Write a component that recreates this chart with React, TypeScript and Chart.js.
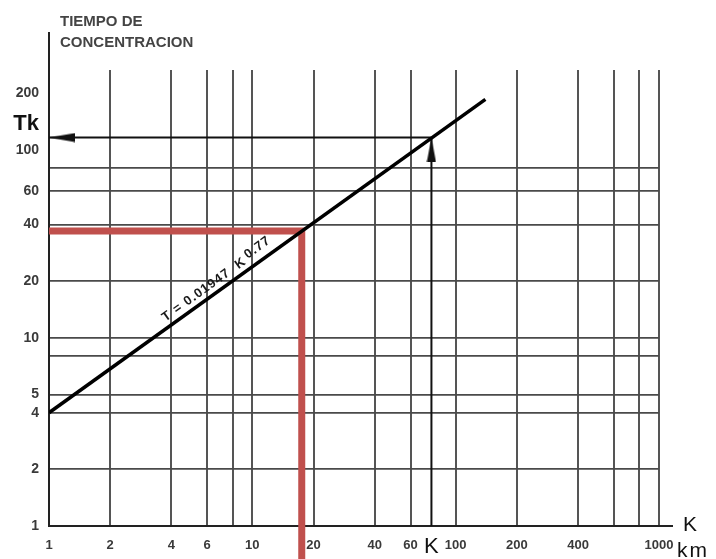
import React, { useEffect, useRef } from 'react';
import { Chart, registerables } from 'chart.js';

Chart.register(...registerables);

// Axis ticks (values and labels)
const xTickValues = [1, 2, 4, 6, 8, 10, 20, 40, 60, 100, 200, 400, 600, 800, 1000];
const xTickLabels = ['1', '2', '4', '6', '', '10', '20', '40', '60', '100', '200', '400', '', '', '1000'];
const yTickValues = [1, 2, 4, 5, 8, 10, 20, 40, 60, 80, 100, 200];
const yTickLabels = ['1', '2', '4', '5', '', '10', '20', '40', '60', '', '100', '200'];
const yNoGrid = [100, 200];

// Main curve T = 0.01947 K^0.77 (read end points)
const curveK = [1, 140];
const curveT = [4, 185];

// Reading example (K -> Tk)
const kValue = 76;
const tkValue = 116;

// Red highlighted reading
const redK = [1, 17.5, 17.5];
const redT = [37, 37, 0.66];

const xMin = 1;
const xMax = 1000;
const yMin = 1;
const yMax = 265;

const FAMILY = '"Liberation Sans", Arial, sans-serif';

export default function App() {
  const ref = useRef<HTMLCanvasElement>(null);

  useEffect(() => {
    const canvas = ref.current!;

    const arrowLeft = document.createElement('canvas');
    arrowLeft.width = 52;
    arrowLeft.height = 10;
    const a = arrowLeft.getContext('2d')!;
    a.fillStyle = '#111';
    a.beginPath();
    a.moveTo(26, 5);
    a.lineTo(52, 0.5);
    a.lineTo(52, 9.5);
    a.closePath();
    a.fill();

    const arrowUp = document.createElement('canvas');
    arrowUp.width = 10;
    arrowUp.height = 48;
    const b = arrowUp.getContext('2d')!;
    b.fillStyle = '#111';
    b.beginPath();
    b.moveTo(5, 24);
    b.lineTo(0.5, 48);
    b.lineTo(9.5, 48);
    b.closePath();
    b.fill();

    const annot = {
      id: 'annot',
      afterDatasetsDraw(chart: any) {
        const ctx = chart.ctx as CanvasRenderingContext2D;
        const area = chart.chartArea;
        ctx.save();
        // axis extensions
        ctx.strokeStyle = '#222';
        ctx.lineWidth = 2;
        ctx.beginPath();
        ctx.moveTo(area.left, area.top);
        ctx.lineTo(area.left, area.top - 38);
        ctx.moveTo(area.right, area.bottom);
        ctx.lineTo(area.right + 14, area.bottom);
        ctx.stroke();

        // title
        ctx.fillStyle = '#444';
        ctx.font = 'bold 15px ' + FAMILY;
        ctx.textAlign = 'left';
        ctx.textBaseline = 'middle';
        ctx.fillText('TIEMPO DE', 60, 22);
        ctx.fillText('CONCENTRACION', 60, 43);

        // axis name K / km
        ctx.fillStyle = '#111';
        ctx.font = '21px ' + FAMILY;
        ctx.textAlign = 'center';
        ctx.fillText('K', area.right + 31, area.bottom - 1);
        ctx.textAlign = 'left';
        (ctx as any).letterSpacing = '2px';
        ctx.fillText('km', area.right + 18, area.bottom + 25);
        (ctx as any).letterSpacing = '0px';

        // formula along the curve
        const pts = chart.getDatasetMeta(0).data;
        const p0 = pts[0];
        const p1 = pts[1];
        const ang = Math.atan2(p1.y - p0.y, p1.x - p0.x);
        const t = 0.275;
        const px = p0.x + t * (p1.x - p0.x);
        const py = p0.y + t * (p1.y - p0.y);
        ctx.translate(px, py);
        ctx.rotate(ang);
        ctx.fillStyle = '#1a1a1a';
        ctx.font = 'bold 13px ' + FAMILY;
        ctx.textBaseline = 'alphabetic';
        ctx.textAlign = 'left';
        (ctx as any).letterSpacing = '1px';
        const main = 'T = 0.01947  K';
        ctx.fillText(main, 0, -6);
        const w = ctx.measureText(main).width;
        ctx.fillText('0.77', w + 3, -9);
        ctx.restore();
      },
    };

    const chart = new Chart(canvas, {
      type: 'line',
      data: {
        datasets: [
          {
            data: curveK.map((k, i) => ({ x: k, y: curveT[i] })),
            borderColor: '#000',
            borderWidth: 3.5,
            pointRadius: 0,
            borderCapStyle: 'butt',
          },
          {
            data: [
              { x: xMin, y: tkValue },
              { x: kValue, y: tkValue },
            ],
            borderColor: '#111',
            borderWidth: 2,
            pointStyle: arrowLeft as any,
            pointRadius: (c: any) => (c.dataIndex === 0 ? 5 : 0),
          },
          {
            data: [
              { x: kValue, y: yMin },
              { x: kValue, y: tkValue },
            ],
            borderColor: '#111',
            borderWidth: 2,
            pointStyle: arrowUp as any,
            pointRadius: (c: any) => (c.dataIndex === 1 ? 5 : 0),
          },
          {
            data: redK.map((k, i) => ({ x: k, y: redT[i] })),
            borderColor: '#c0504d',
            borderWidth: 7,
            pointRadius: 0,
            borderCapStyle: 'butt',
            borderJoinStyle: 'miter',
            clip: false as any,
          },
        ] as any,
      },
      options: {
        animation: false,
        responsive: false,
        maintainAspectRatio: false,
        events: [],
        layout: { padding: { top: 70, right: 57, left: 0, bottom: 0 } },
        plugins: {
          legend: { display: false },
          tooltip: { enabled: false },
          title: { display: false },
        },
        scales: {
          x: {
            type: 'logarithmic',
            min: xMin,
            max: xMax,
            afterBuildTicks: (scale: any) => {
              scale.ticks = [...xTickValues, kValue].sort((p, q) => p - q).map((v) => ({ value: v }));
            },
            afterFit: (scale: any) => {
              scale.height = 33;
            },
            border: { display: true, color: '#222', width: 2 },
            grid: {
              drawTicks: false,
              lineWidth: 2,
              color: (c: any) => (c.tick && c.tick.value === kValue ? 'rgba(0,0,0,0)' : '#555'),
            },
            ticks: {
              autoSkip: false,
              maxRotation: 0,
              minRotation: 0,
              padding: 12,
              color: (c: any) => (c.tick && c.tick.value === kValue ? '#111' : '#3a3a3a'),
              font: (c: any) =>
                c.tick && c.tick.value === kValue
                  ? { size: 22, family: FAMILY, lineHeight: 0.8 }
                  : { size: 13, family: FAMILY, weight: 'bold' },
              callback: (v: any) => {
                if (v === kValue) return 'K';
                const i = xTickValues.indexOf(v);
                return i >= 0 ? xTickLabels[i] : '';
              },
            },
          },
          y: {
            type: 'logarithmic',
            min: yMin,
            max: yMax,
            afterBuildTicks: (scale: any) => {
              scale.ticks = [...yTickValues, tkValue].sort((p, q) => p - q).map((v) => ({ value: v }));
            },
            afterFit: (scale: any) => {
              scale.width = 49;
            },
            border: { display: true, color: '#222', width: 2 },
            grid: {
              drawTicks: false,
              lineWidth: 1.8,
              color: (c: any) =>
                c.tick && (c.tick.value === tkValue || yNoGrid.includes(c.tick.value))
                  ? 'rgba(0,0,0,0)'
                  : '#4a4a4a',
            },
            ticks: {
              autoSkip: false,
              padding: 10,
              color: (c: any) => (c.tick && c.tick.value === tkValue ? '#111' : '#3a3a3a'),
              font: (c: any) =>
                c.tick && c.tick.value === tkValue
                  ? { size: 22, family: FAMILY, weight: 'bold' }
                  : { size: 14, family: FAMILY, weight: 'bold' },
              callback: (v: any) => {
                if (v === tkValue) return ['Tk', ''];
                const i = yTickValues.indexOf(v);
                return i >= 0 ? yTickLabels[i] : '';
              },
            },
          },
        },
      },
      plugins: [annot],
    } as any);

    return () => chart.destroy();
  }, []);

  return (
    <div style={{ position: 'fixed', left: 0, top: 0, width: 716, height: 559, background: '#fff' }}>
      <canvas ref={ref} width={716} height={559} style={{ display: 'block' }} />
    </div>
  );
}
